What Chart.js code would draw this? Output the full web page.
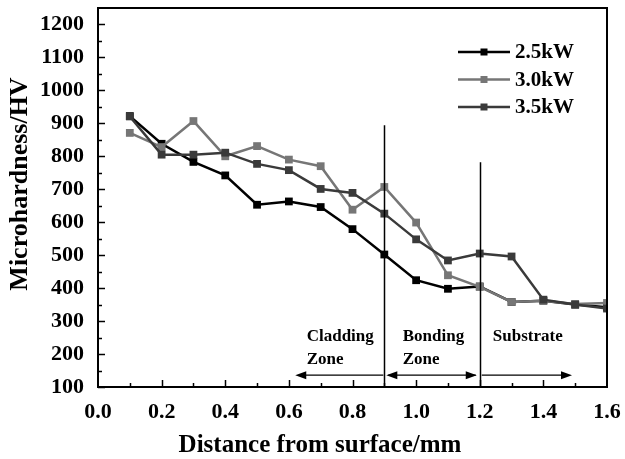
<!DOCTYPE html>
<html>
<head>
<meta charset="utf-8">
<script src="https://cdn.jsdelivr.net/npm/chart.js@4"></script>
<style>
html,body{margin:0;padding:0;background:#fff;}
#wrap{width:625px;height:459px;position:relative;}
</style>
</head>
<body>
<div id="wrap"><canvas id="c" width="625" height="459"></canvas></div>
<script>
const distances = [0.1,0.2,0.3,0.4,0.5,0.6,0.7,0.8,0.9,1.0,1.1,1.2,1.3,1.4,1.5,1.6];
const hv25 = [922,838,783,742,653,663,646,579,502,424,398,405,358,362,350,342];
const hv30 = [871,828,907,800,831,790,770,638,707,599,439,404,358,362,352,355];
const hv35 = [921,805,805,811,777,758,701,689,626,548,484,505,496,365,350,338];
const seriesNames = ['2.5kW','3.0kW','3.5kW'];
const xTicks = [0.0,0.2,0.4,0.6,0.8,1.0,1.2,1.4,1.6];
const yTicks = [100,200,300,400,500,600,700,800,900,1000,1100,1200];
const xTitle = 'Distance from surface/mm';
const yTitle = 'Microhardness/HV';
const zoneBounds = [0.9, 1.2];
const zoneLineTops = [894, 782];
const zoneLabels = [['Cladding','Zone'],['Bonding','Zone'],['Substrate']];

const FONT = "'Liberation Serif','Times New Roman',serif";
const colors = ['#000000','#767676','#3a3a3a'];

function pts(arr){ return distances.map((x,i)=>({x:x,y:arr[i]})); }

const innerTicks = {
  id:'innerTicks',
  afterDraw(chart){
    const {ctx, chartArea:a, scales:{x,y}} = chart;
    ctx.save();
    ctx.strokeStyle='#000';
    ctx.lineWidth=2;
    ctx.beginPath();
    ctx.moveTo(a.left-1,a.top); ctx.lineTo(a.right,a.top); ctx.lineTo(a.right,a.bottom+1);
    ctx.stroke();
    ctx.lineWidth=1.5;
    for(let v=100; v<=1200; v+=50){
      const py = Math.round(y.getPixelForValue(v))+0.5;
      const len = (v%100===0)?7:4;
      ctx.beginPath(); ctx.moveTo(a.left,py); ctx.lineTo(a.left+len,py); ctx.stroke();
    }
    for(let k=1; k<16; k++){
      const v = k/10;
      const px = Math.round(x.getPixelForValue(v))+0.5;
      const len = (k%2===0)?7:4;
      ctx.beginPath(); ctx.moveTo(px,a.bottom); ctx.lineTo(px,a.bottom-len); ctx.stroke();
    }
    // axis titles
    ctx.fillStyle='#000';
    ctx.font = "bold 25px "+FONT;
    ctx.textAlign='center'; ctx.textBaseline='middle';
    ctx.fillText(xTitle, 320, 446);
    ctx.translate(20,184);
    ctx.rotate(-Math.PI/2);
    ctx.font = "bold 26px "+FONT;
    ctx.fillText(yTitle, 0, 0);
    ctx.restore();
  }
};

function arrowHead(ctx, x, y, dir){
  ctx.beginPath();
  ctx.moveTo(x,y);
  ctx.lineTo(x-dir*11,y-4);
  ctx.lineTo(x-dir*11,y+4);
  ctx.closePath();
  ctx.fill();
}

const zones = {
  id:'zones',
  afterDatasetsDraw(chart){
    const {ctx, chartArea:a, scales:{x,y}} = chart;
    ctx.save();
    ctx.strokeStyle='#000'; ctx.fillStyle='#000';
    ctx.lineWidth=1.5;
    zoneBounds.forEach((b,i)=>{
      const px = Math.round(x.getPixelForValue(b))+0.5;
      ctx.beginPath(); ctx.moveTo(px,y.getPixelForValue(zoneLineTops[i])); ctx.lineTo(px,a.bottom); ctx.stroke();
    });
    const ay = y.getPixelForValue(136);
    const b0 = x.getPixelForValue(zoneBounds[0]);
    const b1 = x.getPixelForValue(zoneBounds[1]);
    ctx.lineWidth=1.3;
    const cEnd = x.getPixelForValue(0.62);
    ctx.beginPath(); ctx.moveTo(b0-1,ay); ctx.lineTo(cEnd+5,ay); ctx.stroke();
    arrowHead(ctx,cEnd,ay,-1);
    ctx.beginPath(); ctx.moveTo(b0+4,ay); ctx.lineTo(b1-4,ay); ctx.stroke();
    arrowHead(ctx,b0+2,ay,-1);
    arrowHead(ctx,b1-3,ay,1);
    const sEnd = x.getPixelForValue(1.49);
    ctx.beginPath(); ctx.moveTo(b1+2,ay); ctx.lineTo(sEnd-5,ay); ctx.stroke();
    arrowHead(ctx,sEnd,ay,1);
    ctx.font = "bold 17px "+FONT;
    ctx.textBaseline='middle'; ctx.textAlign='left';
    const lx = [x.getPixelForValue(0.656), x.getPixelForValue(0.958), x.getPixelForValue(1.241)];
    zoneLabels.forEach((lines,i)=>{
      lines.forEach((t,j)=>{ ctx.fillText(t, lx[i], y.getPixelForValue(254) + j*23); });
    });
    ctx.restore();
  }
};

const legendPlugin = {
  id:'customLegend',
  afterDraw(chart){
    const {ctx, chartArea:a} = chart;
    ctx.save();
    ctx.font = "bold 21px "+FONT;
    ctx.textBaseline='middle'; ctx.textAlign='left';
    chart.data.datasets.forEach((ds,i)=>{
      const yy = a.top + 44 + i*27.5;
      const x0 = a.right - 149, x1 = a.right - 97;
      ctx.strokeStyle = ds.borderColor; ctx.lineWidth=2.5;
      ctx.beginPath(); ctx.moveTo(x0,yy); ctx.lineTo(x1,yy); ctx.stroke();
      ctx.fillStyle = ds.backgroundColor;
      ctx.fillRect((x0+x1)/2-3.5, yy-3.5, 7, 7);
      ctx.fillStyle='#000';
      ctx.fillText(ds.label, a.right - 92, yy+1);
    });
    ctx.restore();
  }
};

new Chart(document.getElementById('c'), {
  type:'line',
  data:{
    datasets:[hv25,hv30,hv35].map((arr,i)=>({
      label: seriesNames[i],
      data: pts(arr),
      borderColor: colors[i],
      backgroundColor: colors[i],
      borderWidth: 2.5,
      pointStyle:'rect',
      pointRadius:5.5,
      pointHoverRadius:5.5,
      pointBorderWidth:0,
      tension:0,
      order: 3-i
    }))
  },
  options:{
    responsive:false,
    animation:false,
    devicePixelRatio:1,
    layout:{padding:{top:8,right:18,left:0,bottom:0}},
    plugins:{legend:{display:false}, tooltip:{enabled:false}},
    scales:{
      x:{
        type:'linear', min:0, max:1.6,
        afterBuildTicks(s){ s.ticks = xTicks.map(v=>({value:v})); },
        afterFit(s){ s.height = 72; s.paddingLeft = 0; s.paddingRight = 0; },
        grid:{display:true, drawOnChartArea:false, drawTicks:false},
        border:{display:true, color:'#000', width:2},
        ticks:{padding:12, color:'#000', maxRotation:0, autoSkip:false,
          font:{family:FONT, size:22, weight:'bold'},
          callback:(v)=>Number(v).toFixed(1)},
        title:{display:false}
      },
      y:{
        type:'linear', min:100, max:1250,
        afterBuildTicks(s){ s.ticks = yTicks.map(v=>({value:v})); },
        afterFit(s){ s.width = 98; s.paddingTop = 0; s.paddingBottom = 0; },
        grid:{display:true, drawOnChartArea:false, drawTicks:false},
        border:{display:true, color:'#000', width:2},
        ticks:{padding:14, color:'#000', autoSkip:false,
          font:{family:FONT, size:22, weight:'bold'},
          callback:(v)=>String(v)},
        title:{display:false}
      }
    }
  },
  plugins:[innerTicks, zones, legendPlugin]
});
</script>
</body>
</html>
